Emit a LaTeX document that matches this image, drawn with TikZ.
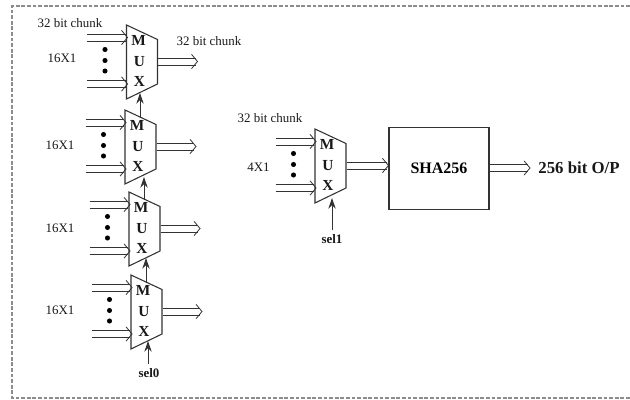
\documentclass[tikz,border=0pt]{standalone}
\usepackage{fontspec}
\setmainfont{Liberation Serif}
\usetikzlibrary{arrows.meta}
\definecolor{ln}{gray}{0.2}
\definecolor{frm}{gray}{0.55}
\tikzset{
  x=0.75pt,y=-0.75pt,
  muxbody/.style={draw=ln,line width=0.8pt,line join=miter},
  busl/.style={draw=ln,line width=0.6pt},
  ctl/.style={draw=ln,line width=0.7pt,-{Stealth[length=8pt,width=5.5pt]}},
  muxlet/.style={font=\fontsize{11.5}{12}\selectfont\bfseries,text=black!90,inner sep=0pt},
  lbl/.style={font=\fontsize{9.7}{11}\selectfont,text=black!90,inner sep=0pt},
  lblb/.style={font=\fontsize{9.7}{11}\selectfont\bfseries,text=black!90,inner sep=0pt},
  bdot/.style={circle,fill=black,inner sep=0pt,minimum size=3.8pt}
}
% double-line bus with an open chevron tip, between two named points
\newcommand{\busarrow}[2]{%
  \draw[busl] ([yshift=2.6pt]#1) -- ([xshift=-1.2pt,yshift=2.6pt]#2);
  \draw[busl] ([yshift=-2.6pt]#1) -- ([xshift=-1.2pt,yshift=-2.6pt]#2);
  \draw[busl] ([xshift=-4.5pt,yshift=5.4pt]#2) -- (#2) -- ([xshift=-4.5pt,yshift=-5.4pt]#2);}
\newcommand{\muxunit}[3]{%
  \begin{scope}[shift={(#2,#3)}]
    \coordinate (#1tl) at (0,0);
    \coordinate (#1bl) at (0,74);
    \coordinate (#1tr) at (31,14.5);
    \coordinate (#1br) at (31,59);
    \draw[muxbody] (#1tl) -- (#1tr) -- (#1br) -- (#1bl) -- cycle;
    \node[muxlet] (#1M) at (12,15.5) {M};
    \node[muxlet] (#1U) at (13,36.5) {U};
    \node[muxlet] (#1X) at (13,56) {X};
    \coordinate (#1ia) at (-39.5,12.5);
    \coordinate (#1ib) at (-39.5,59);
    \coordinate (#1ja) at (1,12.5);
    \coordinate (#1jb) at (1,59);
    \node[bdot] (#1d1) at (-21.5,24.5) {};
    \node[bdot] (#1d2) at (-21.5,35.5) {};
    \node[bdot] (#1d3) at (-21.5,46) {};
    \coordinate (#1oa) at (31.5,36.5);
    \coordinate (#1ob) at (71,36.5);
  \end{scope}
  \busarrow{#1ia}{#1ja}
  \busarrow{#1ib}{#1jb}}
\begin{document}
\begin{tikzpicture}
\useasboundingbox (0,0) rectangle (630,399);
\fill[white] (0,0) rectangle (630,399);
\coordinate (fa) at (630,6);
\coordinate (fb) at (12,6);
\coordinate (fc) at (12,398);
\coordinate (fd) at (630,398);
\draw[draw=frm,line width=1pt,dash pattern=on 2.8pt off 1.4pt] (fa) -- (fb) -- (fc) -- (fd);

\muxunit{a}{126.5}{25}
\muxunit{b}{125}{110}
\muxunit{c}{129}{192}
\muxunit{d}{131}{275}
\muxunit{e}{315}{129}

\busarrow{aoa}{aob}
\busarrow{boa}{bob}
\busarrow{coa}{cob}
\busarrow{doa}{dob}

\coordinate (s1) at (140,118);
\coordinate (s2) at (144,200);
\coordinate (s3) at (146,283);
\coordinate (asel) at (140,93);
\coordinate (bsel) at (144,177);
\coordinate (csel) at (146,258);
\coordinate (dsel) at (148,341);
\coordinate (esel) at (332,198);
\draw[ctl] (s1) -- (asel);
\draw[ctl] (s2) -- (bsel);
\draw[ctl] (s3) -- (csel);

\node[lbl] (t1) at (70,23.5) {32 bit chunk};
\node[lbl] (t2) at (209,41) {32 bit chunk};
\node[lbl] (t3) at (270,118.5) {32 bit chunk};
\node[lbl] (m1) at (62,58) {16X1};
\node[lbl] (m2) at (60,145) {16X1};
\node[lbl] (m3) at (60,228) {16X1};
\node[lbl] (m4) at (60,310) {16X1};
\node[lbl] (m5) at (258.5,167) {4X1};

\node[lblb] (sel0) at (149,373) {sel0};
\node[lblb] (sel1) at (332,239) {sel1};
\coordinate (f0) at (dsel |- 0,364);
\coordinate (f1) at (esel |- 0,230);
\draw[ctl] (f0) -- (dsel);
\draw[ctl] (f1) -- (esel);

\node[draw=ln,line width=0.8pt,minimum width=75pt,minimum height=62pt,inner sep=0pt,
  font=\fontsize{12}{14}\selectfont\bfseries] (sha) at (439,168.5) {SHA256};
\coordinate (shain) at (sha.west |- eoa);
\busarrow{eoa}{shain}
\node[inner sep=0pt,font=\fontsize{12.6}{14}\selectfont\bfseries,text=black!90] (op) at (579,168) {256 bit O/P};
\coordinate (shaoa) at (490,168);
\coordinate (shaob) at (530,168);
\busarrow{shaoa}{shaob}
\end{tikzpicture}
\end{document}
